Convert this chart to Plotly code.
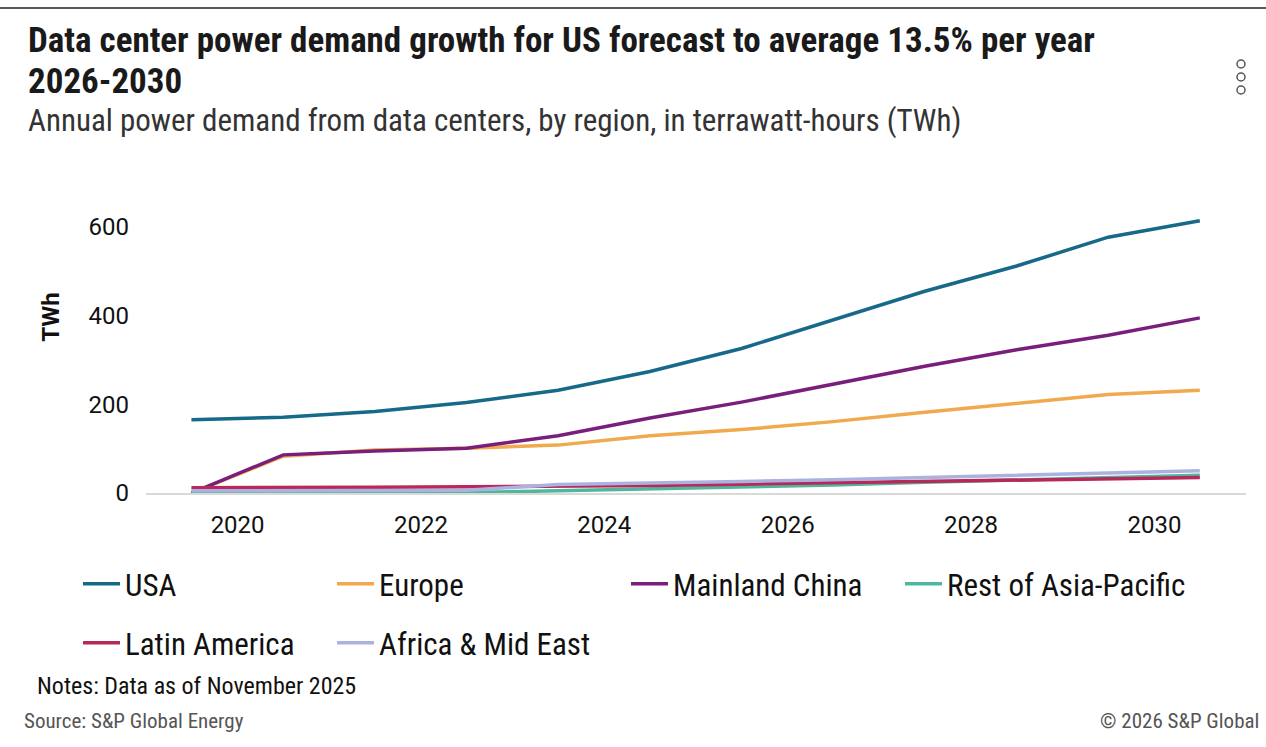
import plotly.graph_objects as go

years = ["2019-07-01", "2020-07-01", "2021-07-01", "2022-07-01", "2023-07-01", "2024-07-01",
         "2025-07-01", "2026-07-01", "2027-07-01", "2028-07-01", "2029-07-01", "2030-07-01"]

usa = [165, 171, 184, 204, 232, 274, 326, 390, 455, 512, 577, 614]
europe = [0, 83, 97, 101, 108, 129, 143, 161, 182, 203, 222, 232]
china = [0, 86, 95, 101, 129, 169, 205, 246, 286, 323, 356, 395]
rest_apac = [0, 0, 0, 1, 5, 9, 13, 18, 24, 29, 34, 40]
latam = [12, 12, 13, 14, 15, 17, 20, 23, 26, 29, 32, 35]
africa_me = [5, 5, 5, 6, 19, 22, 26, 30, 35, 40, 44, 50]

series = [
    ("USA", usa, "#17698a"),
    ("Europe", europe, "#f0aa4d"),
    ("Mainland China", china, "#7a1e7b"),
    ("Rest of Asia-Pacific", rest_apac, "#4fb89c"),
    ("Latin America", latam, "#b8285a"),
    ("Africa & Mid East", africa_me, "#abb2e0"),
]

W, H = 1266, 747
L, R, T, B = 146, 1246, 141, 493  # plot area in px
Y_MAX = 794

def px(x):
    return (x - L) / (R - L)

def py(y):
    return (B - y) / (B - T)

COND = "Roboto Condensed, Liberation Sans Narrow, DejaVu Sans Condensed, Roboto, sans-serif"
TICKF = "Roboto, Liberation Sans, Arial, sans-serif"

fig = go.Figure()
# text start x positions of legend items (px), row centre y
legend_pos = [(125, 584), (379, 584), (673, 584), (947, 584), (125, 643), (379, 643)]
for i, (name, vals, col) in enumerate(series):
    lname = "legend" if i == 0 else f"legend{i+1}"
    fig.add_trace(go.Scatter(
        x=years, y=vals, name=name, mode="lines",
        line=dict(color=col, width=3.5),
        legend=lname,
        hovertemplate="%{y} TWh<extra>" + name + "</extra>",
    ))

layout_legends = {}
for i, (tx, ty) in enumerate(legend_pos):
    lname = "legend" if i == 0 else f"legend{i+1}"
    layout_legends[lname] = dict(
        x=px(tx - 47), y=py(ty), xanchor="left", yanchor="middle",
        xref="paper", yref="paper",
        font=dict(family=COND, size=31, color="#111111"),
        bgcolor="rgba(0,0,0,0)", borderwidth=0,
        itemwidth=37, tracegroupgap=0,
    )

fig.update_layout(
    width=W, height=H,
    margin=dict(l=L, r=W - R, t=T, b=H - B, pad=0),
    paper_bgcolor="white", plot_bgcolor="white",
    showlegend=True,
    xaxis=dict(
        type="date", range=["2019-01-01", "2031-01-01"],
        tick0="2020-01-01", dtick="M24", tickformat="%Y",
        showgrid=False, zeroline=False,
        showline=True, linecolor="#d9d9d9", linewidth=2,
        ticks="", ticklabelstandoff=9,
        tickfont=dict(family=TICKF, size=24, color="#111111"),
        fixedrange=True,
    ),
    yaxis=dict(
        range=[0, Y_MAX], tickvals=[0, 200, 400, 600],
        showgrid=False, zeroline=False, showline=False,
        ticks="", ticklabelstandoff=16,
        tickfont=dict(family=TICKF, size=24, color="#111111"),
        title=dict(text="<b>TWh</b>", font=dict(family=TICKF, size=24, color="#111111"), standoff=22),
        fixedrange=True,
    ),
    **layout_legends,
)

annos = [
    dict(text="<b>Data center power demand growth for US forecast to average 13.5% per year</b>",
         x=px(26), y=py(41), size=35, color="#1a1a1a", anchor="left"),
    dict(text="<b>2026-2030</b>", x=px(26), y=py(82), size=35, color="#1a1a1a", anchor="left"),
    dict(text="Annual power demand from data centers, by region, in terrawatt-hours (TWh)",
         x=px(26), y=py(121), size=31, color="#333333", anchor="left"),
    dict(text="Notes: Data as of November 2025", x=px(35), y=py(686), size=24, color="#111111", anchor="left"),
    dict(text="Source: S&P Global Energy", x=px(22), y=py(721), size=21, color="#555555", anchor="left"),
    dict(text="© 2026 S&P Global", x=px(1261), y=py(721), size=21, color="#555555", anchor="right"),
]
for a in annos:
    fig.add_annotation(
        text=a["text"], x=a["x"], y=a["y"], xref="paper", yref="paper",
        xanchor=a["anchor"], yanchor="middle", showarrow=False,
        font=dict(family=COND, size=a["size"], color=a["color"]),
    )

# top rule
fig.add_shape(type="line", xref="paper", yref="paper", x0=px(0), x1=px(W), y0=py(8), y1=py(8),
              line=dict(color="#222222", width=1.5))
# menu dots
for cy in (64, 77, 90):
    fig.add_shape(type="circle", xref="paper", yref="paper",
                  x0=px(1237), x1=px(1245), y0=py(cy - 4), y1=py(cy + 4),
                  line=dict(color="#555555", width=1.5), fillcolor="white")

fig.write_html("out.html")
